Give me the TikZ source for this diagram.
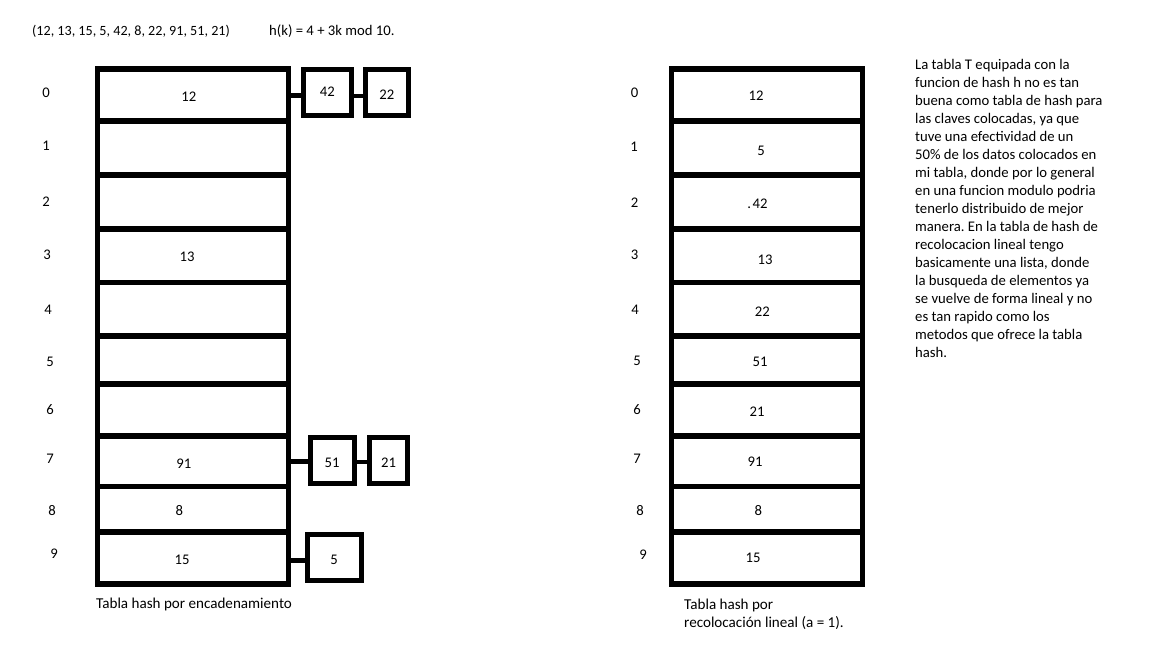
\documentclass[tikz,border=0pt]{standalone}
\usepackage{fontspec}
\setmainfont{Carlito}
\frenchspacing
\newcommand\dfont{\fontsize{14.7pt}{18pt}\selectfont}
\newcommand\capfont{\fontsize{15.1pt}{18pt}\selectfont}
\tikzset{
  tbl/.style={draw=black, line width=5.5pt},
  chainbox/.style={draw=black, line width=5pt, inner sep=0pt, font=\dfont, text depth=0pt},
  link/.style={draw=black, line width=5pt},
  num/.style={inner sep=0pt, font=\dfont, anchor=center},
  txt/.style={inner sep=0pt, font=\dfont}
}
\begin{document}
\begin{tikzpicture}[x=1pt,y=-1pt]
\useasboundingbox[fill=white] (0,0) rectangle (1152,648);

% header
\node[txt, anchor=base west, font=\fontsize{14.1pt}{18pt}\selectfont] (keys) at (32,35.5) {(12, 13, 15, 5, 42, 8, 22, 91, 51, 21)};
\node[txt, anchor=base west] (hfun) at (269,35.5) {h(k) = 4 + 3k mod 10.};

% ---------- left table (chaining) ----------
\node[tbl, inner sep=0pt, minimum width=191pt, minimum height=515pt] (TL) at (193,326.5) {};
\foreach \y in {121,175,229,282.5,336,384,436,486.5,532}
  \draw[tbl] (97.5,\y) -- (288.5,\y);

\foreach \i/\x/\y in {0/46/93,1/46/146,2/46/202,3/47/255,4/48/310,5/50/362,6/50/410,7/50/459,8/52/511,9/54/554}
  \node[num] (lr\i) at (\x,\y) {\i};

\node[num] (lc0) at (188.8,96.7) {12};
\node[num] (lc3) at (187,256.7) {13};
\node[num] (lc7) at (183.8,463.3) {91};
\node[num] (lc8) at (179.3,510.7) {8};
\node[num] (lc9) at (182,560.3) {15};

% chains
\node[chainbox, text height=9.3pt, minimum width=48.5pt, minimum height=46.5pt] (b42) at (327.25,92.25) {42};
\node[chainbox, text height=14.8pt, minimum width=42.5pt, minimum height=46.5pt] (b22) at (386.75,92.25) {22};
\node[chainbox, text height=13.3pt, minimum width=44pt, minimum height=46pt] (b51) at (332,460.5) {51};
\node[chainbox, text height=14.8pt, minimum width=38pt, minimum height=46pt] (b21) at (388.5,460.5) {21};
\node[chainbox, text height=15.3pt, minimum width=54pt, minimum height=46pt] (b5) at (334,557) {5};

\coordinate (e0) at (288.5,95);
\coordinate (e7) at (288.5,461.5);
\coordinate (e9) at (288.5,560);
\draw[link] (e0) -- (e0 -| b42.west);
\draw[link, line width=4pt] ([yshift=-3.3pt]b42.east) -- ([yshift=-3.3pt]b22.west);
\draw[link] (e7) -- (e7 -| b51.west);
\draw[link, line width=4pt] ([yshift=-1pt]b51.east) -- ([yshift=-1pt]b21.west);
\draw[link] (e9) -- (e9 -| b5.west);

\node[txt, anchor=base west, font=\capfont] (capL) at (96,608) {Tabla hash por encadenamiento};

% ---------- right table (linear probing) ----------
\node[tbl, inner sep=0pt, minimum width=191pt, minimum height=515pt] (TR) at (767,326.5) {};
\foreach \y in {121,175,229,282.5,336,384,436,486.5,532}
  \draw[tbl] (671.5,\y) -- (862.5,\y);

\foreach \i/\x/\y in {0/634.7/92.8,1/634/147,2/634.5/202.5,3/634.5/255,4/635/310,5/637/361,6/637/410,7/637/459,8/640/511,9/643/555}
  \node[num] (rr\i) at (\x,\y) {\i};

\node[num] (rc0) at (756,95.7) {12};
\node[num] (rc1) at (761,150.5) {5};
\node[num] (rc2) at (757.5,203.3) {.\hspace{1.5pt}42};
\node[num] (rc3) at (765,260) {13};
\node[num] (rc4) at (762.3,311.7) {22};
\node[num] (rc5) at (760,362.3) {51};
\node[num] (rc6) at (757,411.7) {21};
\node[num] (rc7) at (755,461.7) {91};
\node[num] (rc8) at (758.3,511) {8};
\node[num] (rc9) at (753,557.7) {15};

\node[txt, anchor=north west, align=left, font=\capfont] (capR) at (684,599) {Tabla hash por\\recolocación lineal (a = 1).};

% ---------- comment ----------
\node[txt, anchor=north west, align=left] (note) at (915,59) {La tabla T equipada con la\\
funcion de hash h no es tan\\
buena como tabla de hash para\\
las claves colocadas, ya que\\
tuve una efectividad de un\\
50\% de los datos colocados en\\
mi tabla, donde por lo general\\
en una funcion modulo podria\\
tenerlo distribuido de mejor\\
manera. En la tabla de hash de\\
recolocacion lineal tengo\\
basicamente una lista, donde\\
la busqueda de elementos ya\\
se vuelve de forma lineal y no\\
es tan rapido como los\\
metodos que ofrece la tabla\\
hash.};
\end{tikzpicture}
\end{document}
